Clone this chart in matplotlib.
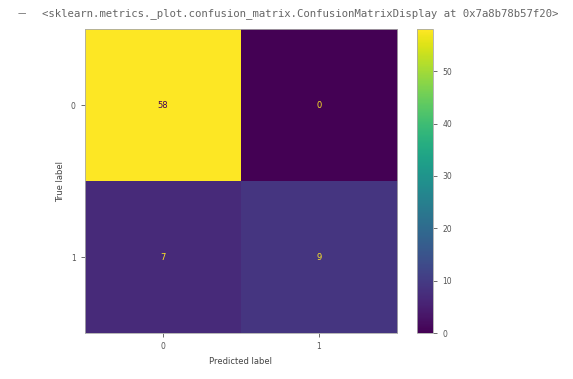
import matplotlib
matplotlib.use("Agg")
import matplotlib.pyplot as plt
import numpy as np

labels = ["0", "1"]
cm = np.array([[58, 0],
               [7, 9]])
cbar_ticks = [0, 10, 20, 30, 40, 50]
header = "<sklearn.metrics._plot.confusion_matrix.ConfusionMatrixDisplay at 0x7a8b78b57f20>"

fig = plt.figure(figsize=(5.73, 3.79), dpi=100)
fig.text(0.03, 0.965, "\u2014", fontsize=6, color="#666666", va="center")
fig.text(0.073, 0.965, header, fontsize=7.65, family="DejaVu Sans Mono",
         color="#666666", va="center")

ax = fig.add_axes([0.148, 0.121, 0.545, 0.802])
cax = fig.add_axes([0.728, 0.121, 0.028, 0.802])
cmap = plt.get_cmap("viridis")
im = ax.imshow(cm, cmap=cmap, aspect="auto", vmin=cm.min(), vmax=cm.max())
thresh = (cm.max() + cm.min()) / 2
for i in range(cm.shape[0]):
    for j in range(cm.shape[1]):
        color = cmap(0.0) if cm[i, j] > thresh else cmap(1.0)
        ax.text(j, i, str(cm[i, j]), ha="center", va="center", color=color, fontsize=6)
ax.set_xticks(range(len(labels)))
ax.set_xticklabels(labels)
ax.set_yticks(range(len(labels)))
ax.set_yticklabels(labels)
ax.set_xlabel("Predicted label", fontsize=6, color="#444444")
ax.set_ylabel("True label", fontsize=6, color="#444444")
ax.tick_params(labelsize=5.5, length=3, width=0.6, colors="#555555")
for s in ax.spines.values():
    s.set_linewidth(0.6)
    s.set_color("#aaaaaa")

cb = fig.colorbar(im, cax=cax, ticks=cbar_ticks)
cb.ax.tick_params(labelsize=5.5, length=3, width=0.6, colors="#555555")
cb.outline.set_linewidth(0.6)
cb.outline.set_edgecolor("#aaaaaa")

fig.savefig("out.png", dpi=100)
